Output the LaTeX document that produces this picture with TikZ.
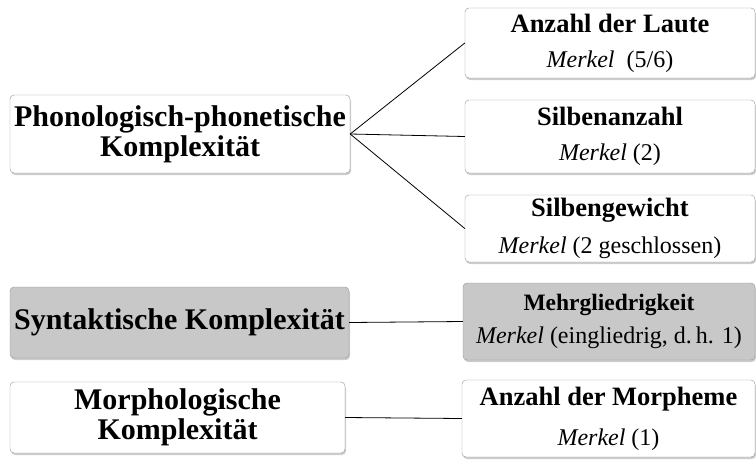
\documentclass[tikz,border=0pt]{standalone}
\usepackage{fontspec}
\setmainfont{Liberation Serif}
\usepackage{tikz}
\usetikzlibrary{shadows}
\definecolor{boxgray}{RGB}{200, 200, 200}
\definecolor{framegray}{RGB}{150, 150, 150}

\begin{document}
\begin{tikzpicture}[x=1pt, y=-1pt,
	mainbox/.style={draw=framegray, fill=white, rounded corners=4pt, align=center, inner sep=1pt, drop shadow={shadow xshift=1pt, shadow yshift=-2pt, fill=black!40}, font=\fontsize{30}{30}\selectfont\bfseries},
	subbox/.style={draw=framegray, fill=white, rounded corners=4pt, align=center, inner sep=1pt, drop shadow={shadow xshift=1pt, shadow yshift=-2pt, fill=black!40}, font=\fontsize{24}{35}\selectfont},
	link/.style={draw=black, line width=0.8pt}]
	\useasboundingbox (0,0) rectangle (756,459);

	\node[mainbox, minimum width=340pt, minimum height=78pt] (phono) at (180,134) {Phonologisch-phonetische\\Komplexität};
	\node[mainbox, fill=boxgray, minimum width=339pt, minimum height=71pt] (syntax) at (179.5,322.5) {Syntaktische Komplexität};
	\node[mainbox, minimum width=335pt, minimum height=71pt] (morph) at (177.5,417.5) {Morphologische\\Komplexität};

	\node[subbox, minimum width=290pt, minimum height=70pt] (laute) at (610,43) {{\fontsize{26.5}{35}\selectfont\bfseries Anzahl der Laute}\\\textit{Merkel}~~(5/6)};
	\node[subbox, minimum width=290pt, minimum height=73pt] (silben) at (610,136.5) {{\fontsize{26.5}{35}\selectfont\bfseries Silbenanzahl}\\\textit{Merkel} (2)};
	\node[subbox, minimum width=290pt, minimum height=67pt, font=\fontsize{24}{37}\selectfont] (gewicht) at (610,228.5) {{\fontsize{26.5}{37}\selectfont\bfseries Silbengewicht}\\\textit{Merkel} (2 geschlossen)};
	\node[subbox, fill=boxgray, minimum width=292pt, minimum height=77pt, font=\fontsize{24}{33}\selectfont] (glieder) at (609,321.5) {{\fontsize{23.5}{33}\selectfont\bfseries Mehrgliedrigkeit}\\\textit{Merkel} (eingliedrig, d.\,h. 1)};
	\node[subbox, minimum width=293pt, minimum height=77pt, font=\fontsize{24}{40}\selectfont] (morpheme) at (608.5,418.5) {{\fontsize{26.5}{40}\selectfont\bfseries Anzahl der Morpheme}\\\textit{Merkel} (1)};

	\draw[link] (phono.east) -- (laute.west);
	\draw[link] (phono.east) -- (silben.west);
	\draw[link] (phono.east) -- (gewicht.west);
	\draw[link] (syntax.east) -- (glieder.west);
	\draw[link] (morph.east) -- (morpheme.west);
\end{tikzpicture}
\end{document}
